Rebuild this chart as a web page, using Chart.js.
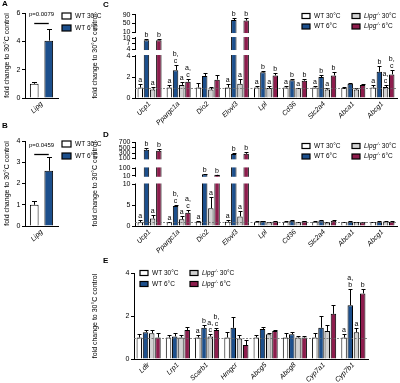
<!DOCTYPE html>
<html><head><meta charset="utf-8">
<script src="https://cdn.jsdelivr.net/npm/chart.js@4.4.1/dist/chart.umd.min.js"></script>
<style>
html,body{margin:0;padding:0;background:#fff}
body{width:400px;height:383px;position:relative;overflow:hidden}
canvas{position:absolute}
</style></head><body>
<canvas id="cE" style="left:88px;top:255px;width:312px;height:128px" width="312" height="128"></canvas>
<canvas id="cD" style="left:88px;top:128px;width:312px;height:128px" width="312" height="128"></canvas>
<canvas id="cC" style="left:88px;top:0px;width:312px;height:128px" width="312" height="128"></canvas>
<canvas id="cB" style="left:0px;top:120px;width:110px;height:136px" width="110" height="136"></canvas>
<canvas id="cA" style="left:0px;top:0px;width:110px;height:128px" width="110" height="128"></canvas>
<script>
// ---------------- DATA ----------------
const seriesLabels = ['WT 30°C', 'WT 6°C', 'Lipg-/- 30°C', 'Lipg-/- 6°C'];
const seriesColors = ['#ffffff', '#1c4f8c', '#d2d2d2', '#8d1d4d'];
const yTitle = 'fold change to 30°C control';

// Panel A
const aCategories = ['Lipg'];
const aWT30 = [1.0];  const aWT30Err = [0.15];
const aWT6  = [4.05]; const aWT6Err  = [0.8];
const aP = 'p=0.0079';
const aTicks = [[0, 2, 4, 6]];

// Panel B
const bCategories = ['Lipg'];
const bWT30 = [1.0];  const bWT30Err = [0.2];
const bWT6  = [2.6];  const bWT6Err  = [0.65];
const bP = 'p=0.0459';
const bTicks = [[0, 1, 2, 3, 4]];

// Panel C
const cCategories = ['Ucp1','Ppargc1a','Dio2','Elovl3','Lpl','Cd36','Slc2a4','Abca1','Abcg1'];
const cWT30    = [1.0, 1.0, 1.0, 1.0, 1.0, 1.0, 1.0, 0.95, 1.0];
const cWT30Err = [0.3, 0.2, 0.4, 0.3, 0.1, 0.1, 0.1, 0.1, 0.2];
const cWT6     = [8.8, 2.65, 2.1, 65, 2.45, 1.7, 2.0, 1.35, 2.5];
const cWT6Err  = [0.5, 0.45, 0.25, 12, 0.15, 0.1, 0.2, 0.1, 0.55];
const cKO30    = [0.8, 1.25, 0.8, 1.35, 0.95, 0.95, 0.8, 0.8, 1.05];
const cKO30Err = [0.25, 0.3, 0.25, 0.45, 0.15, 0.05, 0.15, 0.15, 0.2];
const cKO6     = [8.8, 1.55, 1.75, 63, 2.15, 1.65, 2.15, 1.25, 2.25];
const cKO6Err  = [0.5, 0.3, 0.4, 10, 0.2, 0.15, 0.3, 0.1, 0.45];
const cWT30Sig = ['a','a','','a','a','a','a','','a'];
const cWT6Sig  = ['b','b,|c','','b','b','b','b','','b'];
const cKO30Sig = ['a','a','','a','a','a','a','','a,|c'];
const cKO6Sig  = ['b','a,|c','','b','b','b','b','','b,|c'];
const cTicks = [[0, 2, 4], [4, 7, 10], [10, 50, 90]];

// Panel D
const dCategories = ['Ucp1','Ppargc1a','Dio2','Elovl3','Lpl','Cd36','Slc2a4','Abca1','Abcg1'];
const dWT30    = [0.9, 0.9, 1.0, 1.0, 1.0, 1.0, 1.0, 0.95, 0.95];
const dWT30Err = [0.6, 0.1, 0.3, 0.4, 0.1, 0.1, 0.1, 0.1, 0.1];
const dWT6     = [420, 4.8, 30, 260, 1.2, 1.25, 1.35, 1.0, 1.0];
const dWT6Err  = [60, 0.3, 5, 50, 0.1, 0.1, 0.1, 0.1, 0.15];
const dKO30    = [1.8, 1.6, 4.3, 2.3, 0.9, 0.95, 0.85, 0.95, 1.1];
const dKO30Err = [0.8, 0.7, 2.8, 1.2, 0.05, 0.1, 0.1, 0.1, 0.15];
const dKO6     = [380, 3.2, 22, 270, 1.1, 1.15, 1.25, 0.85, 1.0];
const dKO6Err  = [60, 0.6, 3, 50, 0.1, 0.1, 0.15, 0.1, 0.15];
const dWT30Sig = ['a','a','a','a','','','','',''];
const dWT6Sig  = ['b','b,|c','b','b','','','','',''];
const dKO30Sig = ['a','a','a','a','','','','',''];
const dKO6Sig  = ['b','a,|c','b','b','','','','',''];
const dTicks = [[0, 5, 10], [10, 100], [100, 300, 500, 700]];

// Panel E
const eCategories = ['Ldlr','Lrp1','Scarb1','Hmgcr','Abcg5','Abcg8','Cyp7a1','Cyp7b1'];
const eWT30    = [1.0, 1.0, 1.0, 1.0, 1.0, 1.0, 1.0, 1.0];
const eWT30Err = [0.15, 0.1, 0.1, 0.25, 0.12, 0.2, 0.2, 0.15];
const eWT6     = [1.25, 1.05, 1.45, 1.45, 1.4, 1.15, 1.45, 2.5];
const eWT6Err  = [0.12, 0.15, 0.12, 0.5, 0.1, 0.1, 0.55, 0.75];
const eKO30    = [1.2, 1.0, 1.05, 0.95, 1.15, 1.0, 1.3, 1.25];
const eKO30Err = [0.15, 0.12, 0.1, 0.15, 0.05, 0.05, 0.3, 0.2];
const eKO6     = [1.0, 1.35, 1.35, 0.65, 1.3, 1.0, 2.1, 3.05];
const eKO6Err  = [0.2, 0.15, 0.1, 0.25, 0.05, 0.08, 0.4, 0.2];
const eWT30Sig = ['','','a','','','','','a'];
const eWT6Sig  = ['','','b','','','','','a,|b'];
const eKO30Sig = ['','','a,|c','','','','','a'];
const eKO6Sig  = ['','','b,|c','','','','','b'];
const eTicks = [[0, 2, 4]];

// ---------------- SETUP ----------------
const FAM = "'Liberation Sans', Arial, Helvetica, sans-serif";
Chart.defaults.font.family = FAM;
Chart.defaults.font.size = 7;
Chart.defaults.color = '#000';

const SEG = {};
class BrokenScale extends Chart.LinearScale {
  static id = 'broken';
  static defaults = Chart.LinearScale.defaults;
  _cfg() { return SEG[this.chart.canvas.id]; }
  buildTicks() {
    const out = [];
    this._cfg().ticks.forEach((arr, si) => arr.forEach(v => out.push({ value: v, seg: si })));
    return out;
  }
  _dec(v, si) {
    const c = this._cfg(); const t = c.ticks[si], p = c.pos[si];
    const lo = t[0], hi = t[t.length - 1];
    return p[0] + (v - lo) / (hi - lo) * (p[1] - p[0]);
  }
  getPixelForValue(v) {
    if (v === null || v === undefined || isNaN(v)) return NaN;
    const c = this._cfg();
    let si = c.ticks.findIndex(t => v <= t[t.length - 1]);
    if (si < 0) si = c.ticks.length - 1;
    return this.getPixelForDecimal(this._dec(v, si));
  }
  getPixelForTick(i) {
    const t = this.ticks[i];
    if (!t) return null;
    return this.getPixelForDecimal(this._dec(t.value, t.seg));
  }
  getValueForPixel() { return 0; }
}
Chart.register(BrokenScale);

function drawLabel(ctx, label, x, y, size) {
  ctx.textBaseline = 'middle'; ctx.textAlign = 'left'; ctx.fillStyle = '#000';
  const m = label.match(/^(Lipg)(-\/-)(.*)$/);
  if (m) {
    ctx.font = `italic ${size}px ${FAM}`; ctx.fillText(m[1], x, y); x += ctx.measureText(m[1]).width;
    ctx.font = `${size * 0.6}px ${FAM}`; ctx.fillText(m[2], x, y - size * 0.38); x += ctx.measureText(m[2]).width;
    ctx.font = `${size}px ${FAM}`; ctx.fillText(m[3], x, y);
  } else {
    ctx.font = `${size}px ${FAM}`; ctx.fillText(label, x, y);
  }
}

const figPlugin = {
  id: 'fig',
  afterDatasetsDraw(chart, args, o) {
    const ctx = chart.ctx, ys = chart.scales.y, ca = chart.chartArea;
    ctx.save();
    // error bars
    ctx.strokeStyle = '#000'; ctx.lineWidth = 1;
    chart.data.datasets.forEach((ds, di) => {
      chart.getDatasetMeta(di).data.forEach((bar, i) => {
        const v = ds.data[i], e = ds.err[i];
        const x = Math.round(bar.x) + 0.5;
        const y0 = ys.getPixelForValue(v);
        const y1 = Math.round(ys.getPixelForValue(v + e)) + 0.5;
        ctx.beginPath(); ctx.moveTo(x, y0); ctx.lineTo(x, y1);
        ctx.moveTo(x - o.cap, y1); ctx.lineTo(x + o.cap, y1); ctx.stroke();
      });
    });
    // axis breaks
    const c = SEG[chart.canvas.id];
    ctx.fillStyle = '#fff';
    for (let s = 0; s < c.pos.length - 1; s++) {
      const yLow = ys.getPixelForDecimal(c.pos[s][1]);
      const yHigh = ys.getPixelForDecimal(c.pos[s + 1][0]);
      ctx.fillRect(ca.left - 1, yHigh + 1, ca.right - ca.left + 2, yLow - yHigh - 2);
    }
    // reference line
    if (o.refLine) {
      const yr = Math.round(ys.getPixelForValue(o.refLine)) + 0.5;
      ctx.strokeStyle = '#666'; ctx.lineWidth = 0.8; ctx.setLineDash([2, 1.5]);
      ctx.beginPath(); ctx.moveTo(ca.left, yr); ctx.lineTo(ca.right, yr); ctx.stroke();
      ctx.setLineDash([]);
    }
    // significance letters
    ctx.fillStyle = '#000'; ctx.font = `7px ${FAM}`; ctx.textAlign = 'center'; ctx.textBaseline = 'alphabetic';
    chart.data.datasets.forEach((ds, di) => {
      if (!ds.sig) return;
      chart.getDatasetMeta(di).data.forEach((bar, i) => {
        const s = ds.sig[i]; if (!s) return;
        const lines = s.split('|');
        let y = ys.getPixelForValue(ds.data[i] + ds.err[i]) - 2;
        for (let k = lines.length - 1; k >= 0; k--) { ctx.fillText(lines[k], bar.x, y); y -= 7; }
      });
    });
    ctx.restore();
  },
  afterDraw(chart, args, o) {
    const ctx = chart.ctx, ys = chart.scales.y;
    ctx.save();
    if (o.panel) {
      ctx.fillStyle = '#000'; ctx.font = `bold 8px ${FAM}`; ctx.textAlign = 'left'; ctx.textBaseline = 'middle';
      ctx.fillText(o.panel.text, o.panel.x, o.panel.y);
    }
    if (o.legend) {
      const L = o.legend;
      chart.data.datasets.forEach((ds, di) => {
        const col = Math.floor(di / 2), row = di % 2;
        const bx = L.x + col * L.colW, by = L.y + row * L.rowH;
        ctx.fillStyle = ds.backgroundColor;
        ctx.fillRect(bx, by - L.boxH / 2, L.boxW, L.boxH);
        ctx.strokeStyle = '#000'; ctx.lineWidth = 1.2;
        ctx.strokeRect(bx, by - L.boxH / 2, L.boxW, L.boxH);
        drawLabel(ctx, ds.label, bx + L.boxW + 4, by, L.font);
      });
    }
    if (o.pval) {
      const m0 = chart.getDatasetMeta(0).data[0], m1 = chart.getDatasetMeta(1).data[0];
      const yl = Math.round(ys.getPixelForValue(o.pval.lineAt)) + 0.5;
      ctx.strokeStyle = '#000'; ctx.lineWidth = 1.3;
      ctx.beginPath(); ctx.moveTo(m0.x, yl); ctx.lineTo(m1.x, yl); ctx.stroke();
      ctx.fillStyle = '#000'; ctx.font = `6px ${FAM}`; ctx.textAlign = 'center'; ctx.textBaseline = 'middle';
      ctx.fillText(o.pval.text, (m0.x + m1.x) / 2, ys.getPixelForValue(o.pval.textAt));
    }
    ctx.restore();
  }
};

function buildChart(id, categories, series, ticks, pos, opts) {
  SEG[id] = { ticks: ticks, pos: pos };
  const datasets = series.map((s, k) => ({
    label: seriesLabels[k], data: s.data, err: s.err, sig: s.sig,
    backgroundColor: seriesColors[k], borderColor: '#000', borderWidth: 1,
    categoryPercentage: opts.cat, barPercentage: opts.bar
  }));
  const last = ticks[ticks.length - 1];
  return new Chart(document.getElementById(id), {
    type: 'bar',
    data: { labels: categories, datasets: datasets },
    plugins: [figPlugin],
    options: {
      responsive: false, animation: false, events: [],
      layout: { padding: opts.pad },
      plugins: {
        legend: { display: false }, tooltip: { enabled: false },
        fig: { cap: opts.cap, refLine: opts.refLine, panel: opts.panel, legend: opts.legend, pval: opts.pval }
      },
      scales: {
        x: {
          type: 'category', offset: true,
          grid: { display: false, drawTicks: false },
          border: { display: true, color: '#000', width: 1 },
          ticks: { font: { size: 7, style: 'italic' }, color: '#000', minRotation: 45, maxRotation: 45, padding: 2, autoSkip: false },
          afterFit: s => { s.height = opts.xH; }
        },
        y: {
          type: 'broken', min: 0, max: last[last.length - 1],
          grid: { display: true, drawOnChartArea: false, drawTicks: true, tickLength: 3, color: '#000' },
          border: { display: true, color: '#000', width: 1 },
          ticks: { font: { size: 7 }, color: '#000', padding: 1.5, autoSkip: false, callback: v => String(v) },
          title: { display: true, text: yTitle, font: { size: 7 }, color: '#000', padding: { top: 3, bottom: 0 } },
          afterFit: s => { s.width = opts.yW; }
        }
      }
    }
  });
}

// Panel A
buildChart('cA', aCategories,
  [{ data: aWT30, err: aWT30Err }, { data: aWT6, err: aWT6Err }],
  aTicks, [[0, 1]],
  { pad: { top: 13, right: 52, left: 0, bottom: 0 }, yW: 25, xH: 30, cat: 0.88, bar: 0.6, cap: 2.5,
    panel: { text: 'A', x: 2, y: 4 },
    legend: { x: 62, y: 16, colW: 0, rowH: 12, boxW: 9, boxH: 6, font: 6.5 },
    pval: { text: aP, lineAt: 5.3, textAt: 5.88 } });

// Panel B
buildChart('cB', bCategories,
  [{ data: bWT30, err: bWT30Err }, { data: bWT6, err: bWT6Err }],
  bTicks, [[0, 1]],
  { pad: { top: 21, right: 52, left: 0, bottom: 0 }, yW: 25, xH: 30, cat: 0.88, bar: 0.6, cap: 2.5,
    panel: { text: 'B', x: 2, y: 6 },
    legend: { x: 62, y: 24, colW: 0, rowH: 12, boxW: 9, boxH: 6, font: 6.5 },
    pval: { text: bP, lineAt: 3.39, textAt: 3.78 } });

// Panel C
buildChart('cC', cCategories,
  [{ data: cWT30, err: cWT30Err, sig: cWT30Sig }, { data: cWT6, err: cWT6Err, sig: cWT6Sig },
   { data: cKO30, err: cKO30Err, sig: cKO30Sig }, { data: cKO6, err: cKO6Err, sig: cKO6Sig }],
  cTicks, [[0, 0.504], [0.588, 0.720], [0.792, 1]],
  { pad: { top: 14.7, right: 3, left: 0, bottom: 0 }, yW: 47, xH: 30, cat: 0.85, bar: 0.88, cap: 2, refLine: 1,
    panel: { text: 'C', x: 15, y: 5 },
    legend: { x: 214, y: 16, colW: 50, rowH: 10.5, boxW: 8, boxH: 5, font: 6.5 } });

// Panel D
buildChart('cD', dCategories,
  [{ data: dWT30, err: dWT30Err, sig: dWT30Sig }, { data: dWT6, err: dWT6Err, sig: dWT6Sig },
   { data: dKO30, err: dKO30Err, sig: dKO30Sig }, { data: dKO6, err: dKO6Err, sig: dKO6Sig }],
  dTicks, [[0, 0.496], [0.600, 0.688], [0.808, 1]],
  { pad: { top: 14.3, right: 3, left: 0, bottom: 0 }, yW: 47, xH: 30, cat: 0.85, bar: 0.88, cap: 2, refLine: 1,
    panel: { text: 'D', x: 15, y: 7 },
    legend: { x: 214, y: 18, colW: 50, rowH: 10.5, boxW: 8, boxH: 5, font: 6.5 } });

// Panel E
buildChart('cE', eCategories,
  [{ data: eWT30, err: eWT30Err, sig: eWT30Sig }, { data: eWT6, err: eWT6Err, sig: eWT6Sig },
   { data: eKO30, err: eKO30Err, sig: eKO30Sig }, { data: eKO6, err: eKO6Err, sig: eKO6Sig }],
  eTicks, [[0, 1]],
  { pad: { top: 18, right: 32, left: 0, bottom: 0 }, yW: 46, xH: 24, cat: 0.85, bar: 0.88, cap: 2, refLine: 1,
    panel: { text: 'E', x: 15, y: 6 },
    legend: { x: 52, y: 18, colW: 50, rowH: 11, boxW: 8, boxH: 5, font: 6.5 } });
</script>
</body></html>
